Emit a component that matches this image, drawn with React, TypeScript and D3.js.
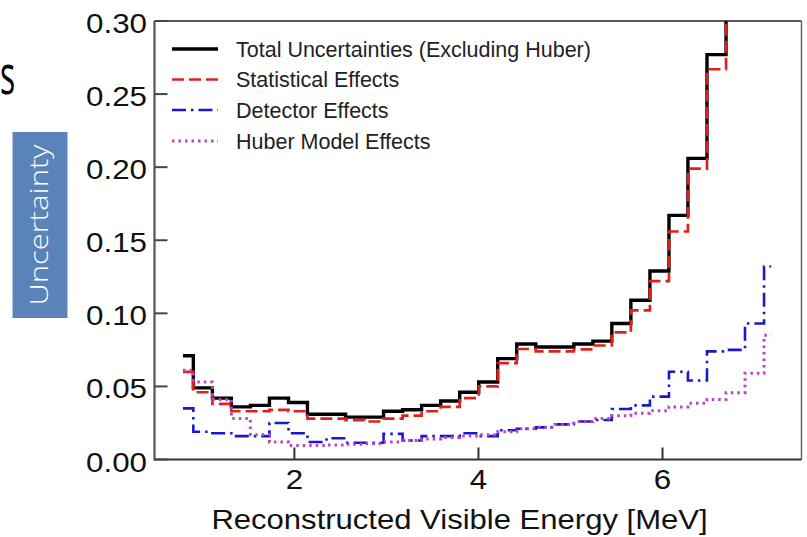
import React from "react";
import * as d3 from "d3";

// Bin edges (MeV)
const binEdges = [
  0.79, 0.902, 1.109, 1.315, 1.522, 1.729, 1.936, 2.142, 2.349, 2.556, 2.762,
  2.969, 3.176, 3.382, 3.589, 3.796, 4.003, 4.209, 4.416, 4.623, 4.829, 5.036,
  5.243, 5.449, 5.656, 5.863, 6.07, 6.276, 6.483, 6.69, 6.896, 7.103, 7.18,
];

const totalUnc = [
  0.071, 0.049, 0.042, 0.036, 0.037, 0.042, 0.039, 0.031, 0.031, 0.029, 0.029,
  0.033, 0.034, 0.037, 0.04, 0.046, 0.053, 0.069, 0.079, 0.077, 0.077, 0.079,
  0.081, 0.093, 0.109, 0.129, 0.167, 0.206, 0.277, 0.36, 0.45, 0.58,
];

const statUnc = [
  0.06, 0.046, 0.038, 0.033, 0.033, 0.034, 0.033, 0.028, 0.028, 0.027, 0.026,
  0.028, 0.03, 0.033, 0.036, 0.042, 0.05, 0.066, 0.0756, 0.074, 0.074, 0.0754,
  0.078, 0.087, 0.102, 0.122, 0.156, 0.199, 0.267, 0.34, 0.42, 0.55,
];

const detUnc = [
  0.035, 0.019, 0.018, 0.016, 0.016, 0.025, 0.018, 0.012, 0.0145, 0.0115,
  0.0115, 0.0175, 0.013, 0.016, 0.016, 0.018, 0.016, 0.02, 0.021, 0.022, 0.024,
  0.026, 0.027, 0.0345, 0.037, 0.043, 0.06, 0.054, 0.074, 0.075, 0.093, 0.132,
];

const huberUnc = [
  0.061, 0.053, 0.041, 0.028, 0.017, 0.012, 0.0095, 0.0095, 0.01, 0.0105, 0.011,
  0.012, 0.013, 0.014, 0.015, 0.016, 0.017, 0.019, 0.021, 0.022, 0.024, 0.026,
  0.028, 0.03, 0.0316, 0.0334, 0.036, 0.0384, 0.041, 0.0457, 0.059, 0.085,
];

const yTicks = [0, 0.05, 0.1, 0.15, 0.2, 0.25, 0.3];
const yTickLabels = ["0.00", "0.05", "0.10", "0.15", "0.20", "0.25", "0.30"];
const xTicks = [2, 4, 6];
const xTickLabels = ["2", "4", "6"];

const legendLabels = [
  "Total Uncertainties (Excluding Huber)",
  "Statistical Effects",
  "Detector Effects",
  "Huber Model Effects",
];

const xAxisTitle = "Reconstructed Visible Energy [MeV]";
const yAxisTitle = "Uncertainty";

export default function App() {
  const left = 154.5;
  const right = 801.5;
  const top = 21;
  const bottom = 459.5;

  const x = d3.scaleLinear().domain([0.48, 7.51]).range([left, right]);
  const y = d3.scaleLinear().domain([0, 0.3]).range([bottom, top]);

  const line = d3
    .line<[number, number]>()
    .x((d) => x(d[0]))
    .y((d) => y(d[1]))
    .curve(d3.curveStepAfter);

  const pts = (vals: number[]): [number, number][] => [
    ...vals.map((v, i) => [binEdges[i], v] as [number, number]),
    [binEdges[binEdges.length - 1], vals[vals.length - 1]],
  ];

  const series = [
    { vals: totalUnc, color: "#000000", width: 3.4, dash: undefined as string | undefined },
    { vals: statUnc, color: "#e0201e", width: 2.7, dash: "12,5" },
    { vals: detUnc, color: "#1818cc", width: 2.6, dash: "14,5,2.5,5" },
    { vals: huberUnc, color: "#b843c8", width: 3, dash: "2.5,4" },
  ];

  const tickFont = "'Liberation Sans', Arial, Helvetica, sans-serif";
  const legendY = [49, 79.5, 110, 141];

  return (
    <svg
      width={807}
      height={537}
      style={{ position: "absolute", left: 0, top: 0, display: "block", background: "#fff" }}
    >
      <defs>
        <clipPath id="plotClip">
          <rect x={left} y={top} width={right - left} height={bottom - top} />
        </clipPath>
      </defs>

      {/* slide title letter at the left edge */}
      <text
        transform="translate(0,94) scale(0.58,1)"
        textAnchor="start"
        fontFamily="'Open Sans', Lato, sans-serif"
        fontWeight={400}
        fontSize={55}
        fill="#000"
      >
        s
      </text>

      {/* y-axis title box */}
      <rect x={12.5} y={132} width={55} height={186} fill="#5a84b9" />
      <text
        transform="translate(48,225) rotate(-90)"
        textAnchor="middle"
        fontFamily="'Open Sans', Lato, sans-serif"
        fontWeight={300}
        fontSize={25}
        fill="#ffffff"
        textLength={161}
        lengthAdjust="spacingAndGlyphs"
      >
        {yAxisTitle}
      </text>

      {/* data */}
      <g clipPath="url(#plotClip)">
        {series.map((s, i) => (
          <path
            key={i}
            d={line(pts(s.vals)) || ""}
            fill="none"
            stroke={s.color}
            strokeWidth={s.width}
            strokeDasharray={s.dash}
            strokeLinejoin="miter"
          />
        ))}
      </g>

      {/* frame */}
      <line x1={left} x2={right} y1={top} y2={top} stroke="#222" strokeWidth={1.5} />
      <line x1={right} x2={right} y1={top} y2={bottom} stroke="#666" strokeWidth={1.5} />
      <line x1={left} x2={left} y1={top} y2={bottom + 1} stroke="#555" strokeWidth={2.2} />
      <line x1={left} x2={right} y1={bottom} y2={bottom} stroke="#333" strokeWidth={2} />

      {/* y ticks */}
      {yTicks.map((t, i) => (
        <g key={"y" + i}>
          <line x1={left} x2={left + 13} y1={y(t)} y2={y(t)} stroke="#444" strokeWidth={2} />
          <text
            transform={`translate(147,${y(t) + 12}) scale(1.12,1)`}
            textAnchor="end"
            fontFamily={tickFont}
            fontSize={28}
            fill="#111"
          >
            {yTickLabels[i]}
          </text>
        </g>
      ))}

      {/* x ticks */}
      {xTicks.map((t, i) => (
        <g key={"x" + i}>
          <line x1={x(t)} x2={x(t)} y1={bottom} y2={bottom - 12} stroke="#333" strokeWidth={2} />
          <text
            transform={`translate(${x(t)},489) scale(1.12,1)`}
            textAnchor="middle"
            fontFamily={tickFont}
            fontSize={28}
            fill="#111"
          >
            {xTickLabels[i]}
          </text>
        </g>
      ))}

      <text
        transform="translate(459.5,529) scale(1.15,1)"
        textAnchor="middle"
        fontFamily={tickFont}
        fontSize={27}
        fill="#111"
      >
        {xAxisTitle}
      </text>

      {/* legend */}
      {series.map((s, i) => (
        <g key={"lg" + i}>
          <line
            x1={172}
            x2={218}
            y1={legendY[i]}
            y2={legendY[i]}
            stroke={s.color}
            strokeWidth={s.width}
            strokeDasharray={s.dash}
          />
          <text
            x={236}
            y={legendY[i] + 7.5}
            fontFamily={tickFont}
            fontSize={21.5}
            fill="#222"
          >
            {legendLabels[i]}
          </text>
        </g>
      ))}
    </svg>
  );
}
